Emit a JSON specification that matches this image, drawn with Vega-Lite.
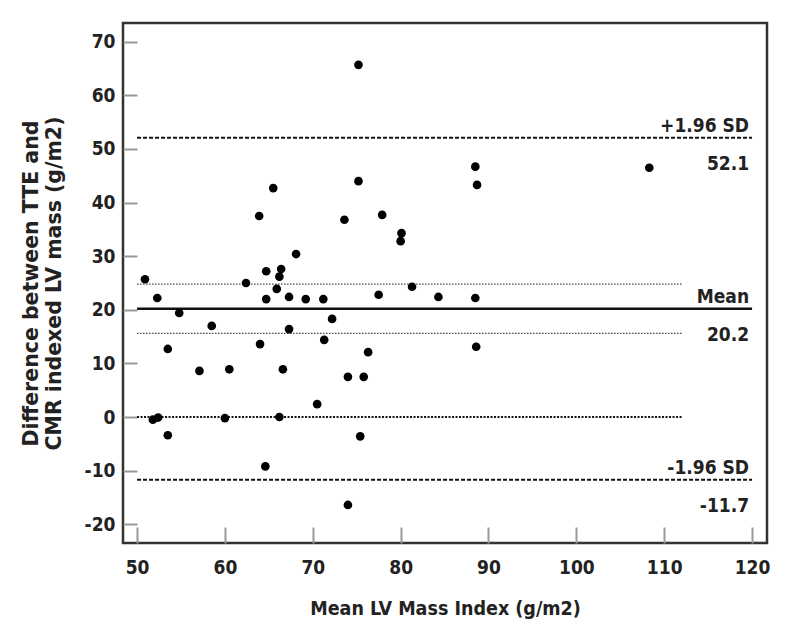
{
  "$schema": "https://vega.github.io/schema/vega-lite/v6.json",
  "width": 644,
  "height": 520,
  "autosize": {"type": "none"},
  "padding": {"left": 123, "top": 23, "right": 25, "bottom": 100},
  "background": "white",
  "config": {
    "view": {"stroke": "#333", "strokeWidth": 2.5},
    "font": "DejaVu Sans Condensed, Liberation Sans Narrow, DejaVu Sans",
    "axis": {
      "grid": false,
      "domain": false,
      "tickColor": "#999",
      "tickWidth": 2,
      "labelFontSize": 19,
      "labelFontWeight": "bold",
      "labelColor": "#222",
      "titleFontSize": 19.5,
      "titleFontWeight": "bold",
      "titleColor": "#222",
      "labelExpr": "'' + datum.value"
    }
  },
  "datasets": {
    "points": [
      {"x": 50.9, "y": 25.7}, {"x": 52.3, "y": 22.2}, {"x": 54.8, "y": 19.4}, {"x": 58.5, "y": 17.0},
      {"x": 53.5, "y": 12.7}, {"x": 57.1, "y": 8.6}, {"x": 60.5, "y": 8.9}, {"x": 64.0, "y": 13.6},
      {"x": 67.3, "y": 16.4}, {"x": 66.6, "y": 8.9}, {"x": 51.8, "y": -0.5}, {"x": 52.4, "y": -0.1},
      {"x": 60.0, "y": -0.2}, {"x": 66.2, "y": 0.0}, {"x": 53.5, "y": -3.4}, {"x": 64.6, "y": -9.2},
      {"x": 65.5, "y": 42.7}, {"x": 63.9, "y": 37.5}, {"x": 68.1, "y": 30.4}, {"x": 64.7, "y": 27.2},
      {"x": 66.4, "y": 27.6}, {"x": 66.2, "y": 26.2}, {"x": 62.4, "y": 25.0}, {"x": 65.9, "y": 23.9},
      {"x": 64.7, "y": 22.0}, {"x": 67.3, "y": 22.4}, {"x": 69.2, "y": 22.0}, {"x": 71.2, "y": 22.0},
      {"x": 72.2, "y": 18.3}, {"x": 71.3, "y": 14.4}, {"x": 76.3, "y": 12.1}, {"x": 74.0, "y": 7.5},
      {"x": 75.8, "y": 7.5}, {"x": 70.5, "y": 2.4}, {"x": 75.4, "y": -3.6}, {"x": 74.0, "y": -16.4},
      {"x": 75.2, "y": 65.7}, {"x": 75.2, "y": 44.0}, {"x": 73.6, "y": 36.8}, {"x": 77.9, "y": 37.7},
      {"x": 80.1, "y": 34.3}, {"x": 80.0, "y": 32.8}, {"x": 81.3, "y": 24.3}, {"x": 77.5, "y": 22.8},
      {"x": 84.3, "y": 22.4}, {"x": 88.5, "y": 46.7}, {"x": 88.7, "y": 43.3}, {"x": 108.3, "y": 46.5},
      {"x": 88.5, "y": 22.2}, {"x": 88.6, "y": 13.1}
    ],
    "sd": [{"x": 50, "x2": 120, "y": 52.1}, {"x": 50, "x2": 120, "y": -11.7}],
    "mean": [{"x": 50, "x2": 120, "y": 20.2}],
    "ci": [{"x": 50, "x2": 112, "y": 24.8}, {"x": 50, "x2": 112, "y": 15.6}],
    "zero": [{"x": 50, "x2": 112, "y": 0}],
    "above": [
      {"x": 120, "y": 52.1, "label": "+1.96 SD"},
      {"x": 120, "y": 20.2, "label": "Mean"},
      {"x": 120, "y": -11.7, "label": "-1.96 SD"}
    ],
    "below": [
      {"x": 120, "y": 52.1, "label": "52.1"},
      {"x": 120, "y": 20.2, "label": "20.2"},
      {"x": 120, "y": -11.7, "label": "-11.7"}
    ]
  },
  "encoding": {
    "x": {
      "field": "x",
      "type": "quantitative",
      "scale": {"domain": [48.4, 121.7], "nice": false, "zero": false},
      "axis": {
        "title": "Mean LV Mass Index (g/m2)",
        "values": [50, 60, 70, 80, 90, 100, 110, 120],
        "tickSize": -16,
        "labelPadding": 31,
        "titlePadding": 22
      }
    },
    "y": {
      "field": "y",
      "type": "quantitative",
      "scale": {"domain": [-23.5, 73.5], "nice": false, "zero": false},
      "axis": {
        "title": ["Difference between TTE and", "CMR indexed LV mass (g/m2)"],
        "titleFont": "DejaVu Sans",
        "titleFontSize": 20.5,
        "titleLineHeight": 23,
        "values": [-20, -10, 0, 10, 20, 30, 40, 50, 60, 70],
        "tickSize": -14,
        "labelPadding": 22,
        "titlePadding": 20
      }
    }
  },
  "layer": [
    {
      "data": {"name": "ci"},
      "mark": {"type": "rule", "strokeDash": [1.5, 1.5], "strokeWidth": 1.2, "color": "#444"},
      "encoding": {"x2": {"field": "x2"}}
    },
    {
      "data": {"name": "zero"},
      "mark": {"type": "rule", "strokeDash": [2, 1.5], "strokeWidth": 2, "color": "#111"},
      "encoding": {"x2": {"field": "x2"}}
    },
    {
      "data": {"name": "sd"},
      "mark": {"type": "rule", "strokeDash": [4, 2], "strokeWidth": 2, "color": "#111"},
      "encoding": {"x2": {"field": "x2"}}
    },
    {
      "data": {"name": "mean"},
      "mark": {"type": "rule", "strokeWidth": 2.5, "color": "#111"},
      "encoding": {"x2": {"field": "x2"}}
    },
    {
      "data": {"name": "points"},
      "mark": {"type": "point", "filled": true, "color": "black", "size": 75, "opacity": 1}
    },
    {
      "data": {"name": "above"},
      "mark": {"type": "text", "align": "right", "baseline": "alphabetic", "dy": -6, "dx": -3, "fontSize": 19, "fontWeight": "bold", "color": "#222"},
      "encoding": {"text": {"field": "label"}}
    },
    {
      "data": {"name": "below"},
      "mark": {"type": "text", "align": "right", "baseline": "alphabetic", "dy": 32, "dx": -3, "fontSize": 19, "fontWeight": "bold", "color": "#222"},
      "encoding": {"text": {"field": "label"}}
    }
  ]
}
